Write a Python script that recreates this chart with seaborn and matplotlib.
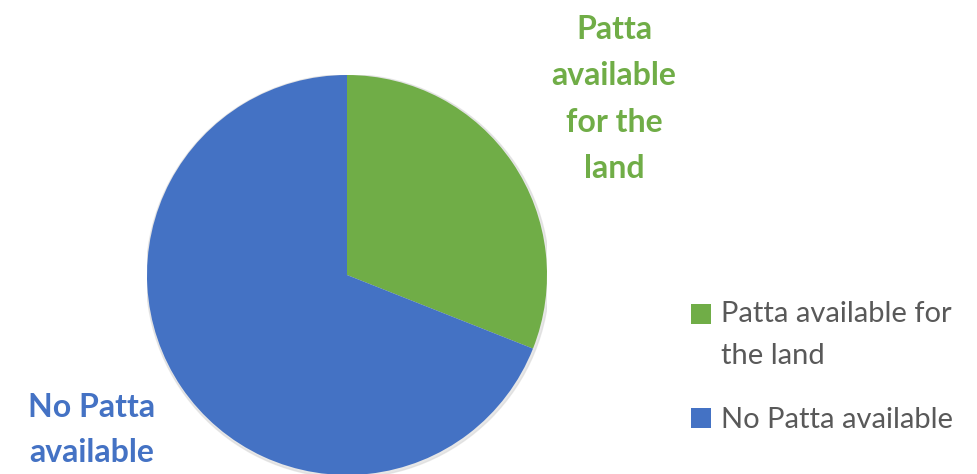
import matplotlib
matplotlib.use('Agg')
import matplotlib.pyplot as plt
import seaborn as sns
from matplotlib.patches import Rectangle
from matplotlib.legend_handler import HandlerPatch

# ── Datos ─────────────────────────────────────────────────────────────────
categories = ['Patta available for the land', 'No Patta available']
legend_labels = ['Patta available for\nthe land', 'No Patta available']
slice_labels = ['Patta\navailable\nfor the\nland', 'No Patta\navailable']
shares = [31, 69]
colors = ['#70AD47', '#4472C4']

sns.set_theme(style='white')
plt.rcParams['font.family'] = ['Lato', 'DejaVu Sans']

W, H = 977, 474
fig = plt.figure(figsize=(W / 100, H / 100), dpi=100)
fig.patch.set_facecolor('white')

# pie: centro (347, 275) px, radio 200 px
cx, cy, r = 347, 275, 200
ax = fig.add_axes([(cx - r) / W, (H - cy - r) / H, 2 * r / W, 2 * r / H])
ax.add_patch(plt.Circle((0.004, -0.006), 1.008, color='#d8d8d8', alpha=0.6, zorder=0))
wedges, _ = ax.pie(shares, colors=colors, startangle=90, counterclock=False,
                   radius=1, wedgeprops=dict(linewidth=0))
ax.set_xlim(-1, 1); ax.set_ylim(-1, 1)
ax.set_aspect('equal')
ax.axis('off')

# etiquetas de las porciones
fig.text(614 / W, 1 - 99 / H, slice_labels[0], ha='center', va='center',
         color=colors[0], fontsize=23, fontweight='bold', linespacing=1.72)
fig.text(92 / W, 1 - 430 / H, slice_labels[1], ha='center', va='center',
         color=colors[1], fontsize=23, fontweight='bold', linespacing=1.7)


# cuadrado de la leyenda alineado con la primera línea del texto
def square_at(shift_pt):
    def make(legend, orig_handle, xdescent, ydescent, width, height, fontsize):
        return Rectangle((-xdescent, -ydescent + shift_pt), width, height)
    return HandlerPatch(patch_func=make)


leg = fig.legend(wedges, legend_labels, loc='upper left',
                 bbox_to_anchor=(679 / W, 1 - 289 / H), frameon=False,
                 fontsize=21, handlelength=0.68, handleheight=0.68,
                 handletextpad=0.35, labelspacing=1.3, labelcolor='#595959',
                 borderaxespad=0,
                 handler_map={wedges[0]: square_at(15.5)})
for t in leg.get_texts():
    t.set_linespacing(1.78)

fig.savefig('out.png', dpi=100, facecolor='white')
